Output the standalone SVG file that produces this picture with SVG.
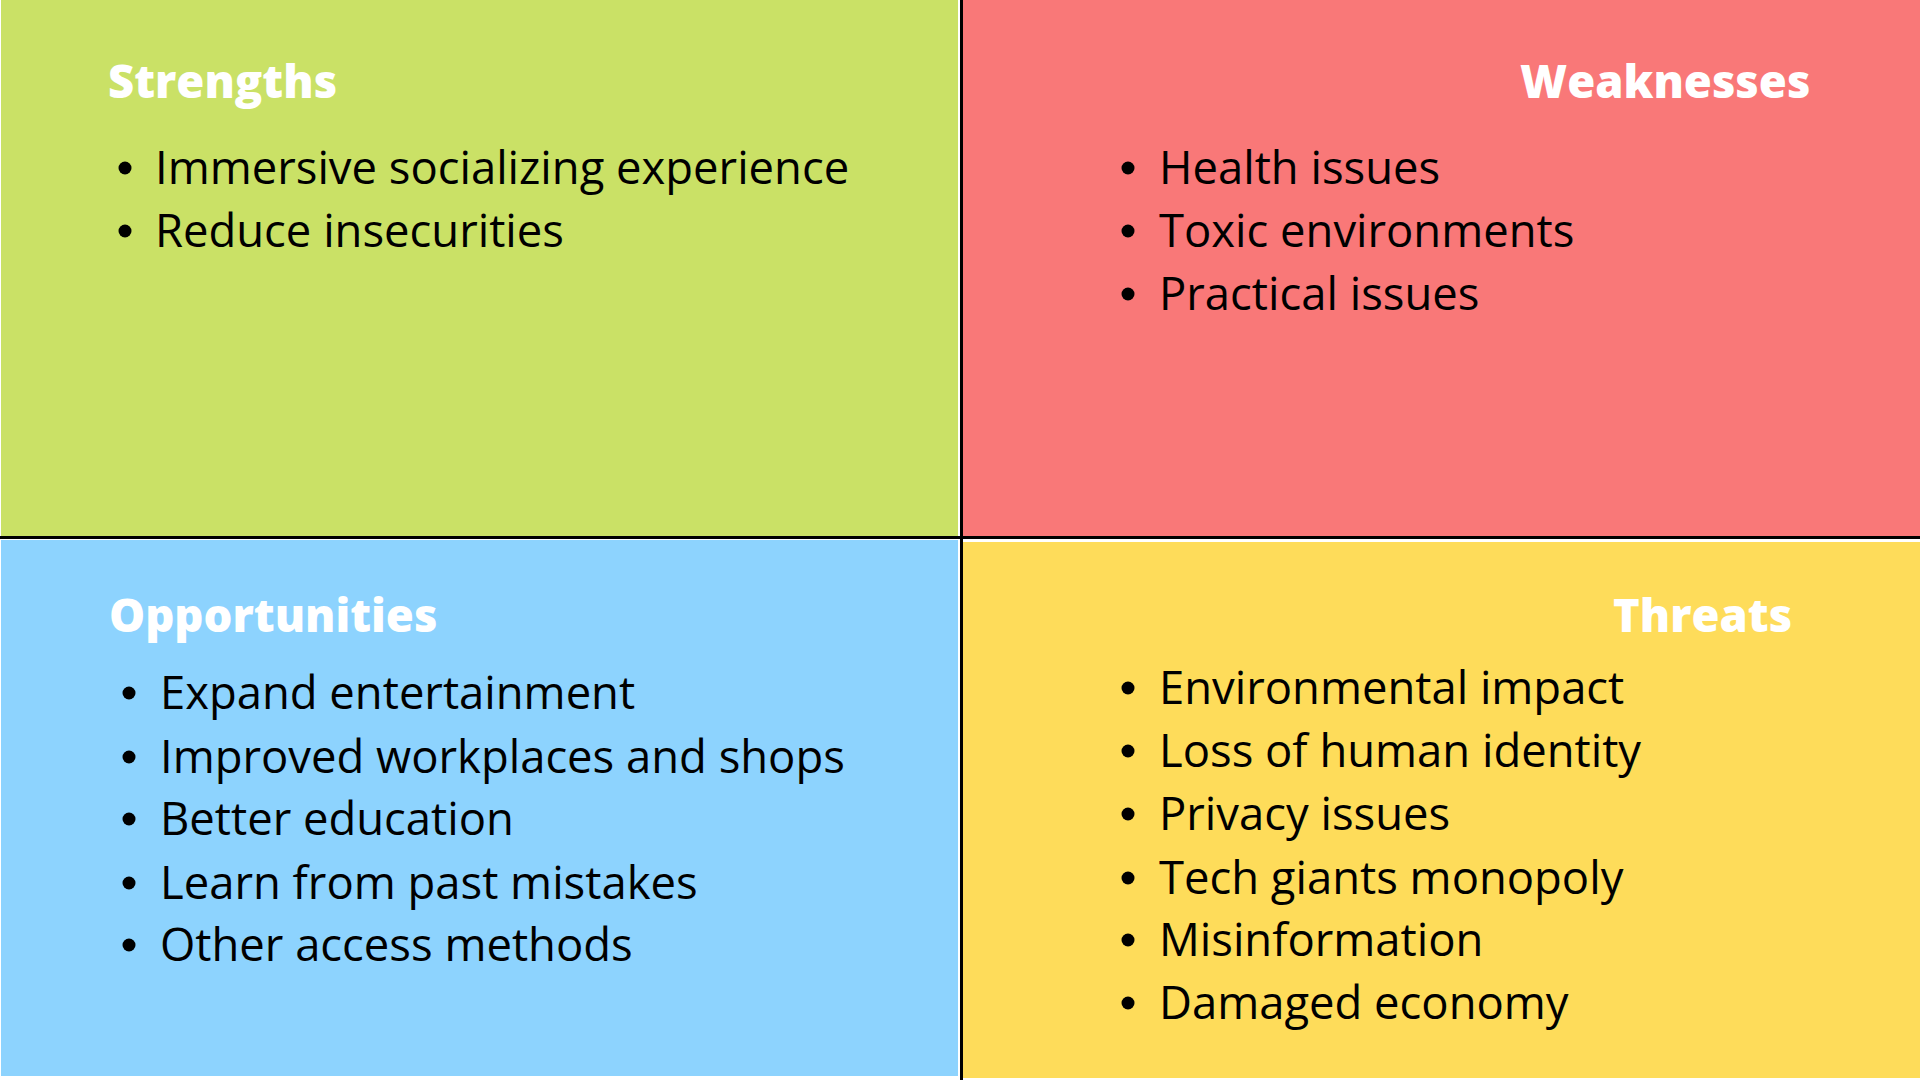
<svg xmlns="http://www.w3.org/2000/svg" width="1920" height="1080" viewBox="0 0 1920 1080">
  <style>
    .title { font-family: "Open Sans", "Liberation Sans", sans-serif; font-weight: 800; font-size: 45.4px; fill: #ffffff; }
    .item { font-family: "Open Sans", "Liberation Sans", sans-serif; font-weight: 400; font-size: 45.4px; fill: #000000; }
    .dot { fill: #000000; }
  </style>
  <rect x="0" y="0" width="1920" height="1080" fill="#ffffff"/>

  <!-- Strengths -->
  <g id="strengths">
    <rect x="1" y="0" width="957" height="536" fill="#cae166"/>
    <text class="title" x="108" y="98">Strengths</text>
    <circle class="dot" cx="125" cy="168" r="6.5"/>
    <text class="item" x="155" y="184">Immersive socializing experience</text>
    <circle class="dot" cx="125" cy="231" r="6.5"/>
    <text class="item" x="155" y="247">Reduce insecurities</text>
  </g>

  <!-- Weaknesses -->
  <g id="weaknesses">
    <rect x="963" y="0" width="957" height="536" fill="#f97878"/>
    <text class="title" x="1520" y="98">Weaknesses</text>
    <circle class="dot" cx="1128" cy="168" r="6.5"/>
    <text class="item" x="1159" y="184">Health issues</text>
    <circle class="dot" cx="1128" cy="231" r="6.5"/>
    <text class="item" x="1159" y="247">Toxic environments</text>
    <circle class="dot" cx="1128" cy="294" r="6.5"/>
    <text class="item" x="1159" y="310">Practical issues</text>
  </g>

  <!-- Opportunities -->
  <g id="opportunities">
    <rect x="1" y="540" width="957" height="536" fill="#8dd3fe"/>
    <text class="title" x="109" y="632">Opportunities</text>
    <circle class="dot" cx="129" cy="693" r="6.5"/>
    <text class="item" x="160" y="709">Expand entertainment</text>
    <circle class="dot" cx="129" cy="757" r="6.5"/>
    <text class="item" x="160" y="773">Improved workplaces and shops</text>
    <circle class="dot" cx="129" cy="819" r="6.5"/>
    <text class="item" x="160" y="835">Better education</text>
    <circle class="dot" cx="129" cy="883" r="6.5"/>
    <text class="item" x="160" y="899">Learn from past mistakes</text>
    <circle class="dot" cx="129" cy="945" r="6.5"/>
    <text class="item" x="160" y="961">Other access methods</text>
  </g>

  <!-- Threats -->
  <g id="threats">
    <rect x="963" y="542" width="957" height="536" fill="#fedc5a"/>
    <text class="title" x="1613" y="632">Threats</text>
    <circle class="dot" cx="1128" cy="688" r="6.5"/>
    <text class="item" x="1159" y="704">Environmental impact</text>
    <circle class="dot" cx="1128" cy="751" r="6.5"/>
    <text class="item" x="1159" y="767">Loss of human identity</text>
    <circle class="dot" cx="1128" cy="814" r="6.5"/>
    <text class="item" x="1159" y="830">Privacy issues</text>
    <circle class="dot" cx="1128" cy="878" r="6.5"/>
    <text class="item" x="1159" y="894">Tech giants monopoly</text>
    <circle class="dot" cx="1128" cy="940" r="6.5"/>
    <text class="item" x="1159" y="956">Misinformation</text>
    <circle class="dot" cx="1128" cy="1003" r="6.5"/>
    <text class="item" x="1159" y="1019">Damaged economy</text>
  </g>

  <!-- dividing lines -->
  <g id="dividers" fill="#000000">
    <rect x="960" y="0" width="3" height="1080"/>
    <rect x="0" y="536" width="1920" height="3"/>
  </g>
</svg>
